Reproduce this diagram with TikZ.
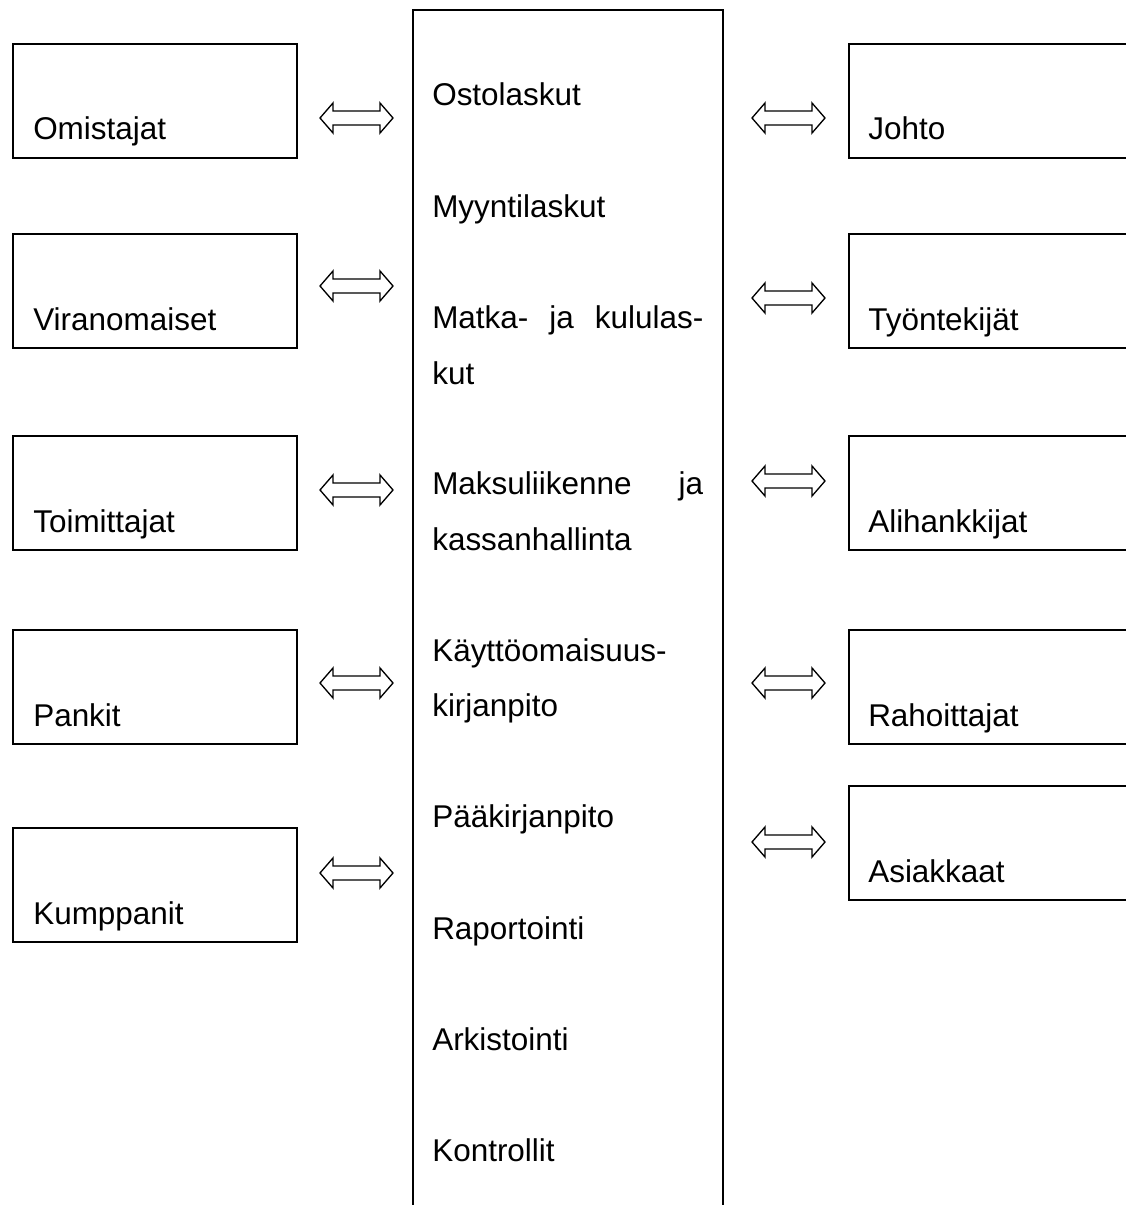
\documentclass[tikz,border=0pt]{standalone}
\usepackage{fontspec}
\setmainfont{Liberation Sans}
\begin{document}
\begin{tikzpicture}[x=0.75pt,y=-0.75pt,
  box/.style={draw,line width=1.5pt,anchor=north west,inner sep=0pt,minimum height=85.5pt},
  lbox/.style={box,minimum width=213pt},
  rbox/.style={box,minimum width=222pt},
  lbl/.style={anchor=base west,inner sep=0pt,font=\fontsize{23.6pt}{28pt}\selectfont},
  dbl/.style={draw,line width=1pt,line join=miter},
  dblarr/.pic={\path[dbl] (-36.5,0) -- (-23.5,-15) -- (-23.5,-7) -- (23.5,-7) -- (23.5,-15) -- (36.5,0) -- (23.5,15) -- (23.5,7) -- (-23.5,7) -- (-23.5,15) -- cycle;}]
\clip (0,0) rectangle (1126,1205);
\fill[white] (0,0) rectangle (1126,1205);
% centre column
\node[draw,line width=1.6pt,anchor=north west,inner sep=0pt,minimum width=232.5pt,minimum height=900pt] (mid) at (412,9) {};
% left boxes
\node[lbox] (b1) at (12,43) {};
\node[lbox] (b2) at (12,233) {};
\node[lbox] (b3) at (12,435) {};
\node[lbox] (b4) at (12,629) {};
\node[lbox] (b5) at (12,827) {};
\node[lbl] (t1) at (33,140) {Omistajat};
\node[lbl] (t2) at (33,330) {Viranomaiset};
\node[lbl] (t3) at (33,532) {Toimittajat};
\node[lbl] (t4) at (33,726) {Pankit};
\node[lbl] (t5) at (33,924) {Kumppanit};
% right boxes
\node[rbox] (r1) at (848,43) {};
\node[rbox] (r2) at (848,233) {};
\node[rbox] (r3) at (848,435) {};
\node[rbox] (r4) at (848,629) {};
\node[rbox] (r5) at (848,785) {};
\node[lbl] (s1) at (868,140) {Johto};
\node[lbl] (s2) at (868,330) {Työntekijät};
\node[lbl] (s3) at (868,532) {Alihankkijat};
\node[lbl] (s4) at (868,726) {Rahoittajat};
\node[lbl] (s5) at (868,882) {Asiakkaat};
% arrows
\pic (la1) at (356.5,118) {dblarr};
\pic (la2) at (356.5,286) {dblarr};
\pic (la3) at (356.5,490) {dblarr};
\pic (la4) at (356.5,683) {dblarr};
\pic (la5) at (356.5,873) {dblarr};
\pic (ra1) at (788.5,118) {dblarr};
\pic (ra2) at (788.5,298) {dblarr};
\pic (ra3) at (788.5,481) {dblarr};
\pic (ra4) at (788.5,683) {dblarr};
\pic (ra5) at (788.5,842) {dblarr};
% centre texts
\node[lbl] (c1) at (432,106) {Ostolaskut};
\node[lbl] (c2) at (432,218) {Myyntilaskut};
\node[lbl] (c3) at (432,329) {\hbox to 203.25pt{Matka-\hfill ja\hfill kululas-}};
\node[lbl] (c3b) at (432,384) {kut};
\node[lbl] (c4) at (432,494) {\hbox to 203.25pt{Maksuliikenne\hfill ja}};
\node[lbl] (c4b) at (432,550) {kassanhallinta};
\node[lbl] (c5) at (432,661) {Käyttöomaisuus-};
\node[lbl] (c5b) at (432,716) {kirjanpito};
\node[lbl] (c6) at (432,827) {Pääkirjanpito};
\node[lbl] (c7) at (432,939) {Raportointi};
\node[lbl] (c8) at (432,1050) {Arkistointi};
\node[lbl] (c9) at (432,1161) {Kontrollit};
\end{tikzpicture}
\end{document}
